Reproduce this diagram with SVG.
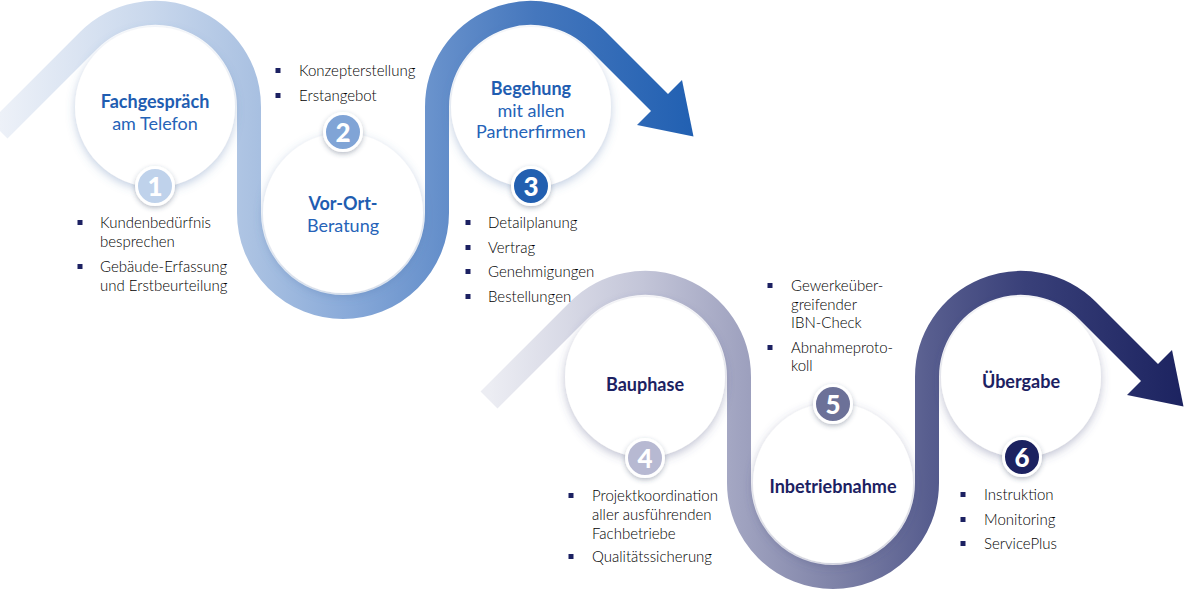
<svg xmlns="http://www.w3.org/2000/svg" width="1186" height="592" viewBox="0 0 1186 592">
<style>
.title{font-family:Lato,"Open Sans","Liberation Sans",sans-serif;font-size:18px;text-anchor:middle}
.b{font-weight:700}
.r{font-weight:400}
.blue{fill:#1f5db1}
.blue2{fill:#2563b8}
.navy{fill:#1c2162}
.body{font-family:Lato,"Open Sans","Liberation Sans",sans-serif;font-size:15px;font-weight:300;fill:#000000}
.bul{fill:#1c2162}
.num{font-family:Lato,"Open Sans","Liberation Sans",sans-serif;font-weight:900;font-size:26px;fill:#ffffff;text-anchor:middle}
.disc{fill:#ffffff}
.ring{stroke:#ffffff;stroke-width:3}
.band{fill:none;stroke-width:24}
</style>
<defs>
<linearGradient id="gTop" gradientUnits="userSpaceOnUse" x1="0" y1="0" x2="695" y2="0">
<stop offset="0" stop-color="#edf1f8"/>
<stop offset="0.22" stop-color="#c8d7ec"/>
<stop offset="0.36" stop-color="#abc2e2"/>
<stop offset="0.5" stop-color="#89aad9"/>
<stop offset="0.63" stop-color="#6690cb"/>
<stop offset="0.77" stop-color="#4577bd"/>
<stop offset="1" stop-color="#2160b2"/>
</linearGradient>
<linearGradient id="gBot" gradientUnits="userSpaceOnUse" x1="0" y1="0" x2="695" y2="0">
<stop offset="0" stop-color="#ecedf3"/>
<stop offset="0.22" stop-color="#c3c5d8"/>
<stop offset="0.36" stop-color="#a0a3c0"/>
<stop offset="0.5" stop-color="#7e82a7"/>
<stop offset="0.63" stop-color="#585e8f"/>
<stop offset="0.77" stop-color="#394079"/>
<stop offset="1" stop-color="#1c2360"/>
</linearGradient>
<filter id="shTop" x="-30%" y="-30%" width="160%" height="160%">
<feDropShadow dx="0" dy="3" stdDeviation="5" flood-color="#4f74ad" flood-opacity="0.35"/>
</filter>
<filter id="shBot" x="-30%" y="-30%" width="160%" height="160%">
<feDropShadow dx="0" dy="3" stdDeviation="5" flood-color="#4a4f80" flood-opacity="0.35"/>
</filter>
<filter id="shBadge" x="-50%" y="-50%" width="200%" height="200%">
<feDropShadow dx="0" dy="2" stdDeviation="2.5" flood-color="#33405f" flood-opacity="0.35"/>
</filter>
</defs>

<g id="connectors">
<g id="snake-top">
<path class="band" stroke="url(#gTop)" d="M -1 130 L 88.5 40.5 A 94 94 0 0 1 249 107 L 249 213 A 94 94 0 0 0 437 213 L 437 107 A 94 94 0 0 1 597.5 40.5 L 663 106"/>
<polygon fill="url(#gTop)" points="682,80 693.5,136.5 637,125"/>
</g>
<g id="snake-bottom" transform="translate(490,270)">
<path class="band" stroke="url(#gBot)" d="M -1 130 L 88.5 40.5 A 94 94 0 0 1 249 107 L 249 213 A 94 94 0 0 0 437 213 L 437 107 A 94 94 0 0 1 597.5 40.5 L 663 106"/>
<polygon fill="url(#gBot)" points="682,80 693.5,136.5 637,125"/>
</g>
</g>

<g id="node1">
<circle class="disc" cx="155" cy="107" r="80" filter="url(#shTop)"/>
<text class="title b blue" x="155" y="108">Fachgespräch</text>
<text class="title r blue2" x="155" y="130">am Telefon</text>
<circle class="ring" cx="155" cy="186" r="18.5" fill="#bfd2eb" filter="url(#shBadge)"/>
<text class="num" x="155" y="195.5">1</text>
<rect class="bul" x="77.5" y="220" width="5" height="5"/>
<text class="body" x="100" y="228">Kundenbedürfnis</text>
<text class="body" x="100" y="247">besprechen</text>
<rect class="bul" x="77.5" y="264" width="5" height="5"/>
<text class="body" x="100" y="272">Gebäude-Erfassung</text>
<text class="body" x="100" y="291">und Erstbeurteilung</text>
</g>

<g id="node2">
<circle class="disc" cx="343" cy="213" r="80" filter="url(#shTop)"/>
<text class="title b blue" x="343" y="210">Vor-Ort-</text>
<text class="title r blue2" x="343" y="232">Beratung</text>
<circle class="ring" cx="343" cy="132" r="18.5" fill="#80a4d6" filter="url(#shBadge)"/>
<text class="num" x="343" y="141.5">2</text>
<rect class="bul" x="275.5" y="68" width="5" height="5"/>
<text class="body" x="299" y="76">Konzepterstellung</text>
<rect class="bul" x="275.5" y="93" width="5" height="5"/>
<text class="body" x="299" y="101">Erstangebot</text>
</g>

<g id="node3">
<circle class="disc" cx="531" cy="107" r="80" filter="url(#shTop)"/>
<text class="title b blue" x="531" y="95">Begehung</text>
<text class="title r blue2" x="531" y="117">mit allen</text>
<text class="title r blue2" x="531" y="138">Partnerfirmen</text>
<circle class="ring" cx="531" cy="186" r="18.5" fill="#225fb0" filter="url(#shBadge)"/>
<text class="num" x="531" y="195.5">3</text>
<rect class="bul" x="465.5" y="220" width="5" height="5"/>
<text class="body" x="488" y="228">Detailplanung</text>
<rect class="bul" x="465.5" y="245" width="5" height="5"/>
<text class="body" x="488" y="253">Vertrag</text>
<rect class="bul" x="465.5" y="269" width="5" height="5"/>
<text class="body" x="488" y="277">Genehmigungen</text>
<rect class="bul" x="465.5" y="294" width="5" height="5"/>
<text class="body" x="488" y="302">Bestellungen</text>
</g>

<g id="node4">
<circle class="disc" cx="645" cy="377" r="80" filter="url(#shBot)"/>
<text class="title b navy" x="645" y="391">Bauphase</text>
<circle class="ring" cx="645" cy="458" r="18.5" fill="#b7b9d2" filter="url(#shBadge)"/>
<text class="num" x="645" y="467.5">4</text>
<rect class="bul" x="568.5" y="493" width="5" height="5"/>
<text class="body" x="592" y="501">Projektkoordination</text>
<text class="body" x="592" y="520">aller ausführenden</text>
<text class="body" x="592" y="539">Fachbetriebe</text>
<rect class="bul" x="568.5" y="554" width="5" height="5"/>
<text class="body" x="592" y="562">Qualitätssicherung</text>
</g>

<g id="node5">
<circle class="disc" cx="833" cy="483" r="80" filter="url(#shBot)"/>
<text class="title b navy" x="833" y="493">Inbetriebnahme</text>
<circle class="ring" cx="833" cy="404" r="18.5" fill="#6c7198" filter="url(#shBadge)"/>
<text class="num" x="833" y="413.5">5</text>
<rect class="bul" x="767.5" y="283" width="5" height="5"/>
<text class="body" x="791" y="291">Gewerkeüber-</text>
<text class="body" x="791" y="310">greifender</text>
<text class="body" x="791" y="328">IBN-Check</text>
<rect class="bul" x="767.5" y="345" width="5" height="5"/>
<text class="body" x="791" y="353">Abnahmeproto-</text>
<text class="body" x="791" y="371">koll</text>
</g>

<g id="node6">
<circle class="disc" cx="1021" cy="377" r="80" filter="url(#shBot)"/>
<text class="title b navy" x="1021" y="388">Übergabe</text>
<circle class="ring" cx="1022" cy="457" r="18.5" fill="#1d2360" filter="url(#shBadge)"/>
<text class="num" x="1022" y="466.5">6</text>
<rect class="bul" x="960.5" y="492" width="5" height="5"/>
<text class="body" x="984" y="500">Instruktion</text>
<rect class="bul" x="960.5" y="517" width="5" height="5"/>
<text class="body" x="984" y="525">Monitoring</text>
<rect class="bul" x="960.5" y="541" width="5" height="5"/>
<text class="body" x="984" y="549">ServicePlus</text>
</g>
</svg>
